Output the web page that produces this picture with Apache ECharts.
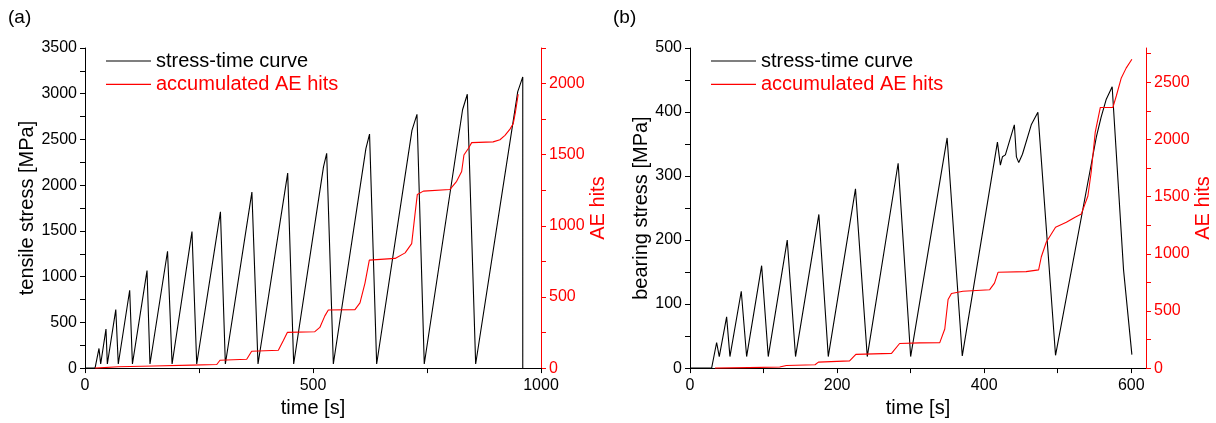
<!DOCTYPE html>
<html>
<head>
<meta charset="utf-8">
<script src="https://cdn.jsdelivr.net/npm/echarts@6/dist/echarts.min.js"></script>
<style>
html,body{margin:0;padding:0;background:#fff;}
#c{width:1216px;height:423px;}
</style>
</head>
<body>
<div id="c"></div>
<script>
// ---------- Panel (a) data ----------
const timeStressA = [0, 22, 30.7, 34.4, 46, 49, 67.5, 73, 98, 104, 136, 142.5, 181, 191, 234.6, 245, 297, 307.8, 366, 379.4, 444.5, 457.6, 523, 530, 544.6, 616, 624, 639.6, 717, 728, 744, 828, 838.4, 856.7, 949, 960, 960];
const stressA     = [0, 0, 215, 45, 427, 45, 640, 45, 851, 45, 1066, 45, 1278, 45, 1493, 45, 1709, 45, 1924, 45, 2132, 45, 2200, 2348, 45, 2400, 2559, 45, 2600, 2775, 45, 2825, 2994, 45, 3023, 3184, 0];
const timeAEA = [22, 73, 150, 234, 289, 296, 354.6, 365.5, 424, 427.6, 435, 443.7, 504, 515, 526, 533.6, 592, 603, 614, 623.5, 680, 702, 716.4, 723.7, 728.8, 742, 800, 815, 826, 831, 840.6, 848, 895, 910, 921, 932, 939, 944, 950];
const aeA     = [0, 9, 15, 21, 25, 55, 62, 118, 125, 136, 194, 251, 256, 286, 367, 408, 411, 459, 598, 759, 771, 810, 875, 1082, 1221, 1244, 1255, 1313, 1382, 1498, 1544, 1585, 1590, 1605, 1636, 1680, 1717, 1800, 1925];

// ---------- Panel (b) data ----------
const timeStressB = [0, 29.4, 36.2, 39.8, 49.8, 54.3, 69.7, 77, 97.4, 106.4, 132.2, 143.5, 175.2, 188, 225, 241, 283, 300, 349.6, 370.2, 418, 422, 424.8, 428.8, 441, 443.8, 447, 452, 464, 473, 497, 552.5, 559, 566, 574, 589.5, 600.8];
const stressB     = [0, 0, 40, 18, 80, 18, 120, 18, 160, 18, 200, 18, 240, 18, 280, 18, 320, 18, 359.5, 19, 353, 317, 330, 333, 380, 330, 321, 334, 380, 399.5, 20, 361, 392, 420, 439.5, 153, 21];
const timeAEB = [34, 80, 122, 131, 170, 174.6, 217, 225.5, 274, 285, 312, 339.6, 346.4, 350.9, 355.5, 371, 407.5, 414, 418.8, 457, 474, 477.7, 484.5, 497, 511.7, 523, 532, 541, 545.6, 551, 557.9, 575, 579.6, 586.4, 593, 600.8];
const aeB     = [0, 4, 9, 23, 29, 52, 63, 120, 129, 215, 221, 223, 342, 600, 652, 672, 686, 743, 838, 844, 859, 974, 1103, 1232, 1275, 1318, 1347, 1505, 1720, 2065, 2280, 2280, 2380, 2538, 2624, 2702];

// ---------- Tick values ----------
const xTicksA = [0, 250, 500, 750, 1000];
const xLabelsA = [0, 500, 1000];
const yTicksA = [0, 250, 500, 750, 1000, 1250, 1500, 1750, 2000, 2250, 2500, 2750, 3000, 3250, 3500];
const yLabelsA = [0, 500, 1000, 1500, 2000, 2500, 3000, 3500];
const aeTicksA = [0, 250, 500, 750, 1000, 1250, 1500, 1750, 2000, 2250];
const aeLabelsA = [0, 500, 1000, 1500, 2000];

const xTicksB = [0, 100, 200, 300, 400, 500, 600];
const xLabelsB = [0, 200, 400, 600];
const yTicksB = [0, 50, 100, 150, 200, 250, 300, 350, 400, 450, 500];
const yLabelsB = [0, 100, 200, 300, 400, 500];
const aeTicksB = [0, 250, 500, 750, 1000, 1250, 1500, 1750, 2000, 2250, 2500, 2750];
const aeLabelsB = [0, 500, 1000, 1500, 2000, 2500];

const seriesNames = ['stress-time curve', 'accumulated AE hits'];

const zip = (xs, ys) => xs.map((x, i) => [x, ys[i]]);
const FONT = '"Liberation Sans", Arial, sans-serif';
const BLACK = '#000000';
const RED = '#ff0000';
const plain = v => String(v);

function xAxis(grid, max, ticks, labels) {
  return {
    type: 'value', gridIndex: grid, min: 0, max: max,
    name: 'time [s]', nameLocation: 'middle', nameGap: 25,
    nameTextStyle: { fontFamily: FONT, fontSize: 20, color: BLACK },
    axisLine: { show: true, onZero: false, lineStyle: { color: BLACK, width: 1 } },
    axisTick: { show: true, length: 5, customValues: ticks, lineStyle: { color: BLACK } },
    axisLabel: { customValues: labels, formatter: plain, margin: 9, fontFamily: FONT, fontSize: 16, color: BLACK },
    splitLine: { show: false }
  };
}
function yAxis(grid, max, ticks, labels, name, pos, color, gap) {
  return {
    type: 'value', gridIndex: grid, min: 0, max: max, position: pos,
    name: name, nameLocation: 'middle', nameGap: gap, nameRotate: 90,
    nameTextStyle: { fontFamily: FONT, fontSize: 20, color: color },
    axisLine: { show: true, onZero: false, lineStyle: { color: color, width: 1 } },
    axisTick: { show: true, length: 5, customValues: ticks, lineStyle: { color: color } },
    axisLabel: { customValues: labels, formatter: plain, margin: 8, fontFamily: FONT, fontSize: 16, color: color },
    splitLine: { show: false }
  };
}
function legend(left) {
  return {
    left: left, top: 51, padding: 0, orient: 'vertical', itemWidth: 45, itemHeight: 1.2, itemGap: 3.3,
    icon: 'rect', selectedMode: false,
    textStyle: { fontFamily: FONT, fontSize: 20 },
    data: [
      { name: seriesNames[0], textStyle: { color: BLACK } },
      { name: seriesNames[1], textStyle: { color: RED } }
    ]
  };
}
function line(name, data, xi, yi, color) {
  return {
    name: name, type: 'line', xAxisIndex: xi, yAxisIndex: yi, data: data,
    showSymbol: false, symbol: 'none', animation: false, clip: true,
    lineStyle: { color: color, width: 1.1 }, itemStyle: { color: color }
  };
}

const chart = echarts.init(document.getElementById('c'), null, { renderer: 'canvas' });
chart.setOption({
  animation: false,
  backgroundColor: '#ffffff',
  title: [
    { text: '(a)', left: 8, top: 8, padding: 0, textStyle: { fontFamily: FONT, fontSize: 19, fontWeight: 'normal', color: BLACK } },
    { text: '(b)', left: 613, top: 8, padding: 0, textStyle: { fontFamily: FONT, fontSize: 19, fontWeight: 'normal', color: BLACK } }
  ],
  legend: [legend(106), legend(711)],
  grid: [
    { left: 85, top: 48, width: 456, height: 325 },
    { left: 690, top: 48, width: 456, height: 325 }
  ],
  xAxis: [xAxis(0, 1000, xTicksA, xLabelsA), xAxis(1, 620, xTicksB, xLabelsB)],
  yAxis: [
    yAxis(0, 3500, yTicksA, yLabelsA, 'tensile stress [MPa]', 'left', BLACK, 34),
    yAxis(0, 2250, aeTicksA, aeLabelsA, 'AE hits', 'right', RED, 43),
    yAxis(1, 500, yTicksB, yLabelsB, 'bearing stress [MPa]', 'left', BLACK, 36),
    yAxis(1, 2800, aeTicksB, aeLabelsB, 'AE hits', 'right', RED, 43)
  ],
  series: [
    line(seriesNames[0], zip(timeStressA, stressA), 0, 0, BLACK),
    line(seriesNames[1], zip(timeAEA, aeA), 0, 1, RED),
    line(seriesNames[0], zip(timeStressB, stressB), 1, 2, BLACK),
    line(seriesNames[1], zip(timeAEB, aeB), 1, 3, RED)
  ]
});
</script>
</body>
</html>
